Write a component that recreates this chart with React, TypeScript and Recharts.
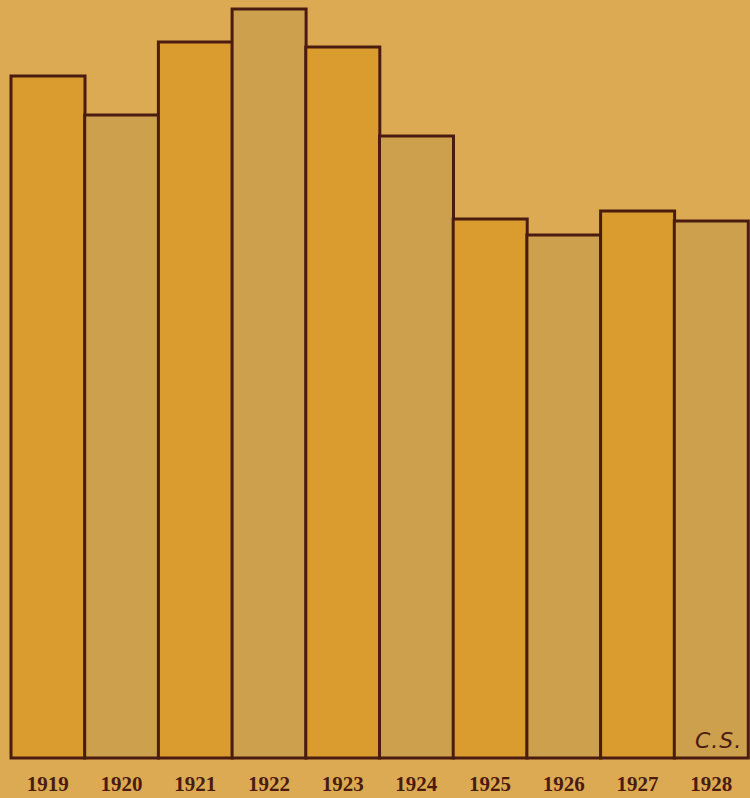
import { BarChart, Bar, XAxis, YAxis, Cell } from 'recharts';

// Relative bar heights (no value axis in the original; units)
const years = ['1919', '1920', '1921', '1922', '1923', '1924', '1925', '1926', '1927', '1928'];
const heights = [682, 643, 716, 749, 711, 622, 539, 523, 547, 537];

const ORANGE = '#da9c2e';
const PALE = '#cda04e';
const INK = '#4a1c10';

const data = years.map((year, i) => ({ year, value: heights[i] }));

export default function App() {
  return (
    <div
      style={{
        position: 'absolute',
        left: 0,
        top: 0,
        width: 750,
        height: 798,
        background: '#dcaa52',
      }}
    >
      <BarChart
        width={750}
        height={798}
        data={data}
        margin={{ top: 8, right: 2, bottom: 0, left: 11 }}
        barCategoryGap={0}
      >
        <YAxis hide domain={[0, 750]} />
        <XAxis
          dataKey="year"
          height={40}
          axisLine={false}
          tickLine={false}
          tick={{
            fill: INK,
            fontSize: 21,
            fontWeight: 'bold',
            fontFamily: '"Liberation Serif", serif',
          }}
          tickMargin={12}
        />
        <Bar dataKey="value" stroke={INK} strokeWidth={3} isAnimationActive={false}>
          {data.map((_, index) => (
            <Cell key={`cell-${index}`} fill={index % 2 === 0 ? ORANGE : PALE} />
          ))}
        </Bar>
      </BarChart>
      <div
        style={{
          position: 'absolute',
          left: 695,
          top: 728,
          fontFamily: '"DejaVu Sans", sans-serif',
          fontStyle: 'italic',
          fontSize: 22,
          color: INK,
          letterSpacing: 1,
        }}
      >
        C.S.
      </div>
    </div>
  );
}
